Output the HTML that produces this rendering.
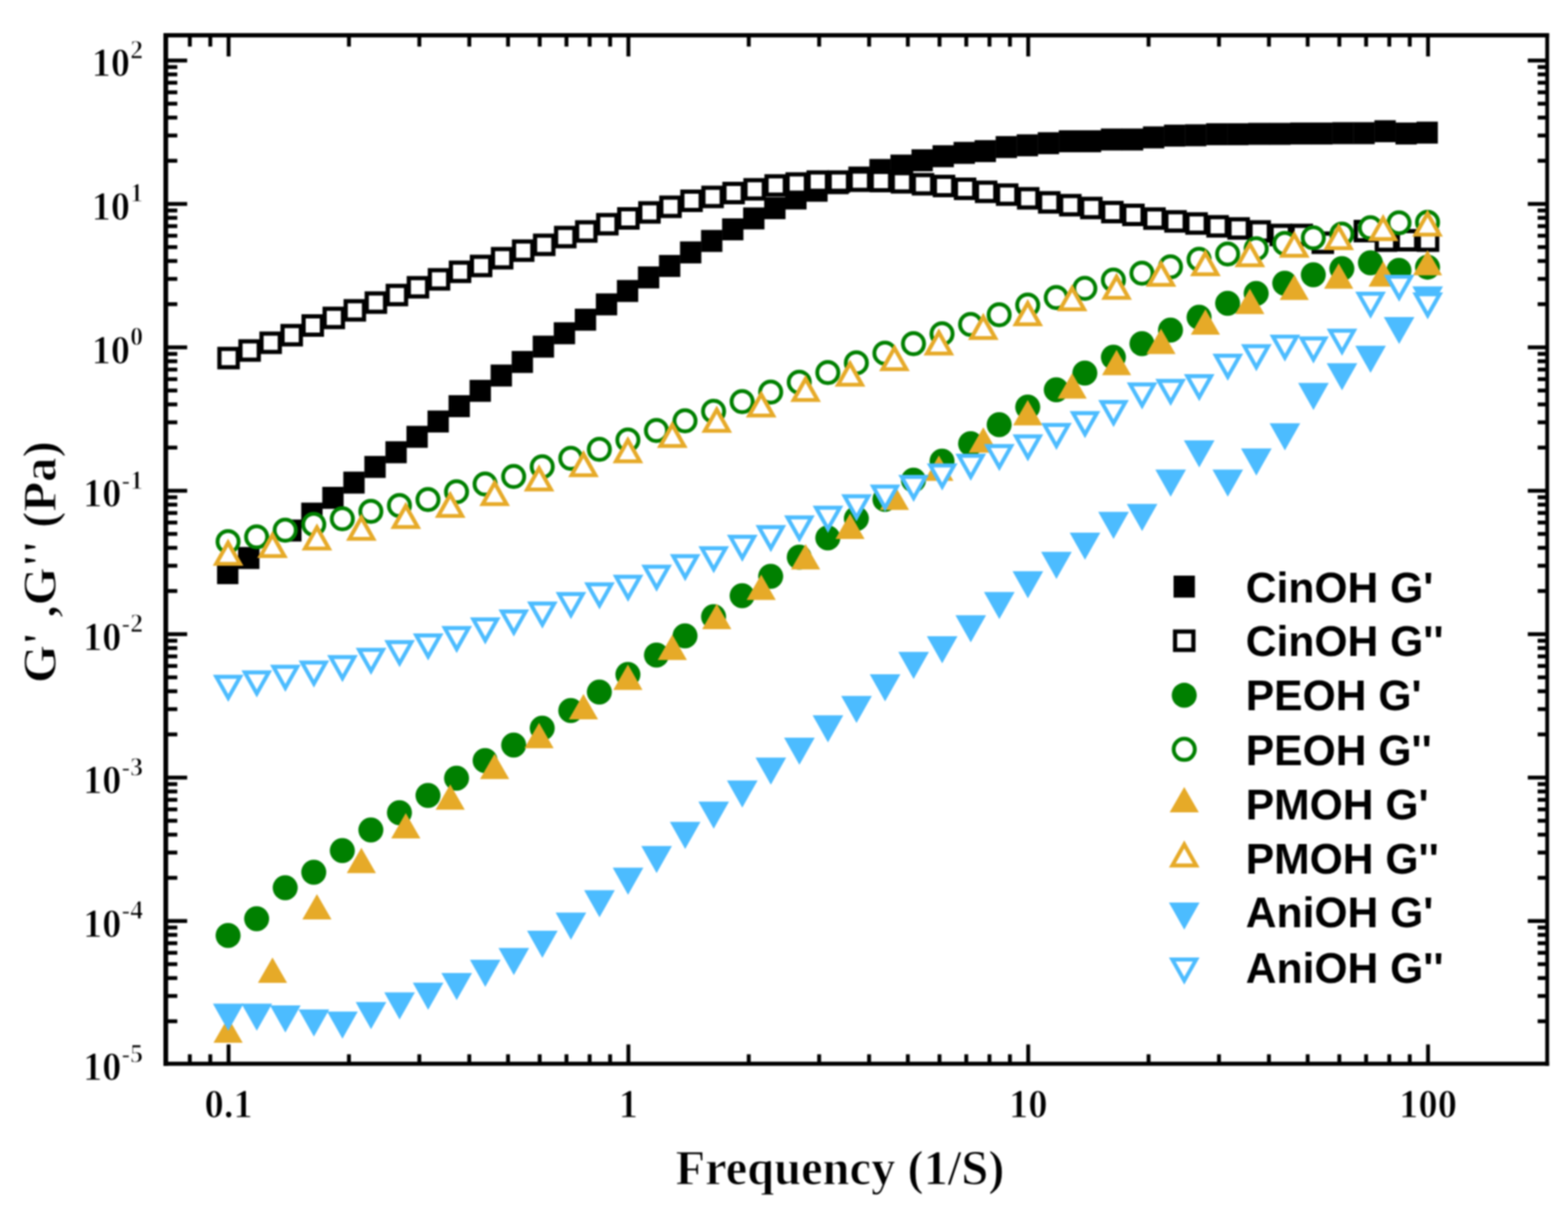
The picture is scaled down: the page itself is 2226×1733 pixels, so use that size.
<!DOCTYPE html>
<html lang="en"><head><meta charset="utf-8"><title>G', G'' vs Frequency</title>
<style>html,body{margin:0;padding:0;background:#fff}body{width:2226px;height:1733px;overflow:hidden}svg{display:block;filter:blur(1px)}</style>
</head><body>
<svg width="2226" height="1733" viewBox="0 0 2226 1733" role="img" aria-label="Log-log plot of G prime and G double prime versus frequency">
<rect width="2226" height="1733" fill="#ffffff"/>
<g id="sqf">
<rect x="308.15" y="797.9" width="30.3" height="31.2" fill="#000000"/>
<rect x="338.02" y="776.4" width="30.3" height="31.2" fill="#000000"/>
<rect x="397.77" y="737.4" width="30.3" height="31.2" fill="#000000"/>
<rect x="427.64" y="713.4" width="30.3" height="31.2" fill="#000000"/>
<rect x="457.52" y="691" width="30.3" height="31.2" fill="#000000"/>
<rect x="487.39" y="669.4" width="30.3" height="31.2" fill="#000000"/>
<rect x="517.27" y="647.15" width="30.3" height="31.2" fill="#000000"/>
<rect x="547.14" y="626.3" width="30.3" height="31.2" fill="#000000"/>
<rect x="577.01" y="604.4" width="30.3" height="31.2" fill="#000000"/>
<rect x="606.89" y="582.65" width="30.3" height="31.2" fill="#000000"/>
<rect x="636.76" y="560.9" width="30.3" height="31.2" fill="#000000"/>
<rect x="666.63" y="539.15" width="30.3" height="31.2" fill="#000000"/>
<rect x="696.51" y="517.4" width="30.3" height="31.2" fill="#000000"/>
<rect x="726.38" y="498.15" width="30.3" height="31.2" fill="#000000"/>
<rect x="756.26" y="476.4" width="30.3" height="31.2" fill="#000000"/>
<rect x="786.13" y="457.4" width="30.3" height="31.2" fill="#000000"/>
<rect x="816" y="438.15" width="30.3" height="31.2" fill="#000000"/>
<rect x="845.88" y="416.4" width="30.3" height="31.2" fill="#000000"/>
<rect x="875.75" y="397.4" width="30.3" height="31.2" fill="#000000"/>
<rect x="905.62" y="378.15" width="30.3" height="31.2" fill="#000000"/>
<rect x="935.5" y="361.9" width="30.3" height="31.2" fill="#000000"/>
<rect x="965.37" y="342.65" width="30.3" height="31.2" fill="#000000"/>
<rect x="995.24" y="326.4" width="30.3" height="31.2" fill="#000000"/>
<rect x="1025.12" y="309.9" width="30.3" height="31.2" fill="#000000"/>
<rect x="1054.99" y="294.4" width="30.3" height="31.2" fill="#000000"/>
<rect x="1084.87" y="279.9" width="30.3" height="31.2" fill="#000000"/>
<rect x="1114.74" y="266.15" width="30.3" height="31.2" fill="#000000"/>
<rect x="1144.61" y="255.15" width="30.3" height="31.2" fill="#000000"/>
<rect x="1174.49" y="244.4" width="30.3" height="31.2" fill="#000000"/>
<rect x="1204.36" y="236.4" width="30.3" height="31.2" fill="#000000"/>
<rect x="1234.23" y="225.65" width="30.3" height="31.2" fill="#000000"/>
<rect x="1264.11" y="219.4" width="30.3" height="31.2" fill="#000000"/>
<rect x="1293.98" y="211.9" width="30.3" height="31.2" fill="#000000"/>
<rect x="1323.86" y="206.15" width="30.3" height="31.2" fill="#000000"/>
<rect x="1353.73" y="201.4" width="30.3" height="31.2" fill="#000000"/>
<rect x="1383.6" y="198.9" width="30.3" height="31.2" fill="#000000"/>
<rect x="1413.48" y="193.15" width="30.3" height="31.2" fill="#000000"/>
<rect x="1443.35" y="190.65" width="30.3" height="31.2" fill="#000000"/>
<rect x="1473.22" y="187.65" width="30.3" height="31.2" fill="#000000"/>
<rect x="1503.1" y="184.9" width="30.3" height="31.2" fill="#000000"/>
<rect x="1532.97" y="184.9" width="30.3" height="31.2" fill="#000000"/>
<rect x="1562.84" y="182.4" width="30.3" height="31.2" fill="#000000"/>
<rect x="1592.72" y="182.4" width="30.3" height="31.2" fill="#000000"/>
<rect x="1622.59" y="179.4" width="30.3" height="31.2" fill="#000000"/>
<rect x="1652.47" y="176.9" width="30.3" height="31.2" fill="#000000"/>
<rect x="1682.34" y="176.4" width="30.3" height="31.2" fill="#000000"/>
<rect x="1712.21" y="174.9" width="30.3" height="31.2" fill="#000000"/>
<rect x="1742.09" y="174.9" width="30.3" height="31.2" fill="#000000"/>
<rect x="1771.96" y="174.4" width="30.3" height="31.2" fill="#000000"/>
<rect x="1801.83" y="174.4" width="30.3" height="31.2" fill="#000000"/>
<rect x="1831.71" y="173.9" width="30.3" height="31.2" fill="#000000"/>
<rect x="1861.58" y="173.9" width="30.3" height="31.2" fill="#000000"/>
<rect x="1891.46" y="173.4" width="30.3" height="31.2" fill="#000000"/>
<rect x="1921.33" y="173.4" width="30.3" height="31.2" fill="#000000"/>
<rect x="1951.2" y="170.65" width="30.3" height="31.2" fill="#000000"/>
<rect x="1981.08" y="173.9" width="30.3" height="31.2" fill="#000000"/>
<rect x="2010.95" y="172.65" width="30.3" height="31.2" fill="#000000"/>
</g><g id="sqo">
<rect x="311.5" y="495.25" width="26" height="26" fill="#fff" stroke="#000000" stroke-width="6"/>
<rect x="341.37" y="484.5" width="26" height="26" fill="#fff" stroke="#000000" stroke-width="6"/>
<rect x="371.25" y="473.5" width="26" height="26" fill="#fff" stroke="#000000" stroke-width="6"/>
<rect x="401.12" y="462.75" width="26" height="26" fill="#fff" stroke="#000000" stroke-width="6"/>
<rect x="430.99" y="449" width="26" height="26" fill="#fff" stroke="#000000" stroke-width="6"/>
<rect x="460.87" y="438.25" width="26" height="26" fill="#fff" stroke="#000000" stroke-width="6"/>
<rect x="490.74" y="427.5" width="26" height="26" fill="#fff" stroke="#000000" stroke-width="6"/>
<rect x="520.62" y="416.5" width="26" height="26" fill="#fff" stroke="#000000" stroke-width="6"/>
<rect x="550.49" y="405.75" width="26" height="26" fill="#fff" stroke="#000000" stroke-width="6"/>
<rect x="580.36" y="394.75" width="26" height="26" fill="#fff" stroke="#000000" stroke-width="6"/>
<rect x="610.24" y="383.5" width="26" height="26" fill="#fff" stroke="#000000" stroke-width="6"/>
<rect x="640.11" y="372.75" width="26" height="26" fill="#fff" stroke="#000000" stroke-width="6"/>
<rect x="669.98" y="364.5" width="26" height="26" fill="#fff" stroke="#000000" stroke-width="6"/>
<rect x="699.86" y="353.5" width="26" height="26" fill="#fff" stroke="#000000" stroke-width="6"/>
<rect x="729.73" y="342.75" width="26" height="26" fill="#fff" stroke="#000000" stroke-width="6"/>
<rect x="759.61" y="334.5" width="26" height="26" fill="#fff" stroke="#000000" stroke-width="6"/>
<rect x="789.48" y="323.5" width="26" height="26" fill="#fff" stroke="#000000" stroke-width="6"/>
<rect x="819.35" y="315.5" width="26" height="26" fill="#fff" stroke="#000000" stroke-width="6"/>
<rect x="849.23" y="305.25" width="26" height="26" fill="#fff" stroke="#000000" stroke-width="6"/>
<rect x="879.1" y="297" width="26" height="26" fill="#fff" stroke="#000000" stroke-width="6"/>
<rect x="908.97" y="288.5" width="26" height="26" fill="#fff" stroke="#000000" stroke-width="6"/>
<rect x="938.85" y="280.5" width="26" height="26" fill="#fff" stroke="#000000" stroke-width="6"/>
<rect x="968.72" y="272" width="26" height="26" fill="#fff" stroke="#000000" stroke-width="6"/>
<rect x="998.59" y="266.5" width="26" height="26" fill="#fff" stroke="#000000" stroke-width="6"/>
<rect x="1028.47" y="261" width="26" height="26" fill="#fff" stroke="#000000" stroke-width="6"/>
<rect x="1058.34" y="255.75" width="26" height="26" fill="#fff" stroke="#000000" stroke-width="6"/>
<rect x="1088.22" y="250.25" width="26" height="26" fill="#fff" stroke="#000000" stroke-width="6"/>
<rect x="1118.09" y="247.5" width="26" height="26" fill="#fff" stroke="#000000" stroke-width="6"/>
<rect x="1147.96" y="244.75" width="26" height="26" fill="#fff" stroke="#000000" stroke-width="6"/>
<rect x="1177.84" y="244.75" width="26" height="26" fill="#fff" stroke="#000000" stroke-width="6"/>
<rect x="1207.71" y="243.5" width="26" height="26" fill="#fff" stroke="#000000" stroke-width="6"/>
<rect x="1237.58" y="244" width="26" height="26" fill="#fff" stroke="#000000" stroke-width="6"/>
<rect x="1267.46" y="245.75" width="26" height="26" fill="#fff" stroke="#000000" stroke-width="6"/>
<rect x="1297.33" y="248.5" width="26" height="26" fill="#fff" stroke="#000000" stroke-width="6"/>
<rect x="1327.21" y="251" width="26" height="26" fill="#fff" stroke="#000000" stroke-width="6"/>
<rect x="1357.08" y="255" width="26" height="26" fill="#fff" stroke="#000000" stroke-width="6"/>
<rect x="1386.95" y="259.25" width="26" height="26" fill="#fff" stroke="#000000" stroke-width="6"/>
<rect x="1416.83" y="263.25" width="26" height="26" fill="#fff" stroke="#000000" stroke-width="6"/>
<rect x="1446.7" y="268.5" width="26" height="26" fill="#fff" stroke="#000000" stroke-width="6"/>
<rect x="1476.57" y="274.25" width="26" height="26" fill="#fff" stroke="#000000" stroke-width="6"/>
<rect x="1506.45" y="278.25" width="26" height="26" fill="#fff" stroke="#000000" stroke-width="6"/>
<rect x="1536.32" y="282.25" width="26" height="26" fill="#fff" stroke="#000000" stroke-width="6"/>
<rect x="1566.19" y="288" width="26" height="26" fill="#fff" stroke="#000000" stroke-width="6"/>
<rect x="1596.07" y="292" width="26" height="26" fill="#fff" stroke="#000000" stroke-width="6"/>
<rect x="1625.94" y="297.25" width="26" height="26" fill="#fff" stroke="#000000" stroke-width="6"/>
<rect x="1655.82" y="301.25" width="26" height="26" fill="#fff" stroke="#000000" stroke-width="6"/>
<rect x="1685.69" y="304.25" width="26" height="26" fill="#fff" stroke="#000000" stroke-width="6"/>
<rect x="1715.56" y="308.25" width="26" height="26" fill="#fff" stroke="#000000" stroke-width="6"/>
<rect x="1745.44" y="311.25" width="26" height="26" fill="#fff" stroke="#000000" stroke-width="6"/>
<rect x="1775.31" y="315.5" width="26" height="26" fill="#fff" stroke="#000000" stroke-width="6"/>
<rect x="1805.18" y="320.5" width="26" height="26" fill="#fff" stroke="#000000" stroke-width="6"/>
<rect x="1835.06" y="320.5" width="26" height="26" fill="#fff" stroke="#000000" stroke-width="6"/>
<rect x="1864.93" y="331.5" width="26" height="26" fill="#fff" stroke="#000000" stroke-width="6"/>
<rect x="1924.68" y="315" width="26" height="26" fill="#fff" stroke="#000000" stroke-width="6"/>
<rect x="1954.55" y="328.5" width="26" height="26" fill="#fff" stroke="#000000" stroke-width="6"/>
<rect x="1984.43" y="328" width="26" height="26" fill="#fff" stroke="#000000" stroke-width="6"/>
<rect x="2014.3" y="328.5" width="26" height="26" fill="#fff" stroke="#000000" stroke-width="6"/>
</g><g id="cif">
<circle cx="323.8" cy="1327.75" r="17.75" fill="#008000"/>
<circle cx="364.34" cy="1304" r="17.75" fill="#008000"/>
<circle cx="404.89" cy="1260" r="17.75" fill="#008000"/>
<circle cx="445.43" cy="1238" r="17.75" fill="#008000"/>
<circle cx="485.97" cy="1207.25" r="17.75" fill="#008000"/>
<circle cx="526.51" cy="1178" r="17.75" fill="#008000"/>
<circle cx="567.06" cy="1153.5" r="17.75" fill="#008000"/>
<circle cx="607.6" cy="1129" r="17.75" fill="#008000"/>
<circle cx="648.14" cy="1104.5" r="17.75" fill="#008000"/>
<circle cx="688.69" cy="1079.5" r="17.75" fill="#008000"/>
<circle cx="729.23" cy="1057.5" r="17.75" fill="#008000"/>
<circle cx="769.77" cy="1033.5" r="17.75" fill="#008000"/>
<circle cx="810.31" cy="1008.5" r="17.75" fill="#008000"/>
<circle cx="850.86" cy="982.25" r="17.75" fill="#008000"/>
<circle cx="891.4" cy="957.25" r="17.75" fill="#008000"/>
<circle cx="931.94" cy="929.75" r="17.75" fill="#008000"/>
<circle cx="972.49" cy="902.5" r="17.75" fill="#008000"/>
<circle cx="1013.03" cy="875.25" r="17.75" fill="#008000"/>
<circle cx="1053.57" cy="845.5" r="17.75" fill="#008000"/>
<circle cx="1094.11" cy="818" r="17.75" fill="#008000"/>
<circle cx="1134.66" cy="790.75" r="17.75" fill="#008000"/>
<circle cx="1175.2" cy="763.5" r="17.75" fill="#008000"/>
<circle cx="1215.74" cy="736" r="17.75" fill="#008000"/>
<circle cx="1256.29" cy="708.75" r="17.75" fill="#008000"/>
<circle cx="1296.83" cy="681.5" r="17.75" fill="#008000"/>
<circle cx="1337.37" cy="654.5" r="17.75" fill="#008000"/>
<circle cx="1377.91" cy="629.75" r="17.75" fill="#008000"/>
<circle cx="1418.46" cy="602.75" r="17.75" fill="#008000"/>
<circle cx="1459" cy="577.75" r="17.75" fill="#008000"/>
<circle cx="1499.54" cy="553.25" r="17.75" fill="#008000"/>
<circle cx="1540.09" cy="529.5" r="17.75" fill="#008000"/>
<circle cx="1580.63" cy="507" r="17.75" fill="#008000"/>
<circle cx="1621.17" cy="487.75" r="17.75" fill="#008000"/>
<circle cx="1661.71" cy="468.5" r="17.75" fill="#008000"/>
<circle cx="1702.26" cy="450.25" r="17.75" fill="#008000"/>
<circle cx="1742.8" cy="430.5" r="17.75" fill="#008000"/>
<circle cx="1783.34" cy="416.5" r="17.75" fill="#008000"/>
<circle cx="1823.89" cy="402" r="17.75" fill="#008000"/>
<circle cx="1864.43" cy="390" r="17.75" fill="#008000"/>
<circle cx="1904.97" cy="381.2" r="17.75" fill="#008000"/>
<circle cx="1945.51" cy="373" r="17.75" fill="#008000"/>
<circle cx="1986.06" cy="383.7" r="17.75" fill="#008000"/>
<circle cx="2026.6" cy="379.2" r="17.75" fill="#008000"/>
</g><g id="cio">
<circle cx="323.8" cy="768.75" r="15.0" fill="#fff" stroke="#008000" stroke-width="5.5"/>
<circle cx="364.34" cy="762" r="15.0" fill="#fff" stroke="#008000" stroke-width="5.5"/>
<circle cx="404.89" cy="752.5" r="15.0" fill="#fff" stroke="#008000" stroke-width="5.5"/>
<circle cx="445.43" cy="744.25" r="15.0" fill="#fff" stroke="#008000" stroke-width="5.5"/>
<circle cx="485.97" cy="736.25" r="15.0" fill="#fff" stroke="#008000" stroke-width="5.5"/>
<circle cx="526.51" cy="725.75" r="15.0" fill="#fff" stroke="#008000" stroke-width="5.5"/>
<circle cx="567.06" cy="717.5" r="15.0" fill="#fff" stroke="#008000" stroke-width="5.5"/>
<circle cx="607.6" cy="709" r="15.0" fill="#fff" stroke="#008000" stroke-width="5.5"/>
<circle cx="648.14" cy="698" r="15.0" fill="#fff" stroke="#008000" stroke-width="5.5"/>
<circle cx="688.69" cy="687" r="15.0" fill="#fff" stroke="#008000" stroke-width="5.5"/>
<circle cx="729.23" cy="676.25" r="15.0" fill="#fff" stroke="#008000" stroke-width="5.5"/>
<circle cx="769.77" cy="662.5" r="15.0" fill="#fff" stroke="#008000" stroke-width="5.5"/>
<circle cx="810.31" cy="650.5" r="15.0" fill="#fff" stroke="#008000" stroke-width="5.5"/>
<circle cx="850.86" cy="637.75" r="15.0" fill="#fff" stroke="#008000" stroke-width="5.5"/>
<circle cx="891.4" cy="624.5" r="15.0" fill="#fff" stroke="#008000" stroke-width="5.5"/>
<circle cx="931.94" cy="611" r="15.0" fill="#fff" stroke="#008000" stroke-width="5.5"/>
<circle cx="972.49" cy="597.25" r="15.0" fill="#fff" stroke="#008000" stroke-width="5.5"/>
<circle cx="1013.03" cy="583.75" r="15.0" fill="#fff" stroke="#008000" stroke-width="5.5"/>
<circle cx="1053.57" cy="570" r="15.0" fill="#fff" stroke="#008000" stroke-width="5.5"/>
<circle cx="1094.11" cy="556.5" r="15.0" fill="#fff" stroke="#008000" stroke-width="5.5"/>
<circle cx="1134.66" cy="542.5" r="15.0" fill="#fff" stroke="#008000" stroke-width="5.5"/>
<circle cx="1175.2" cy="528.75" r="15.0" fill="#fff" stroke="#008000" stroke-width="5.5"/>
<circle cx="1215.74" cy="515" r="15.0" fill="#fff" stroke="#008000" stroke-width="5.5"/>
<circle cx="1256.29" cy="501.25" r="15.0" fill="#fff" stroke="#008000" stroke-width="5.5"/>
<circle cx="1296.83" cy="487.75" r="15.0" fill="#fff" stroke="#008000" stroke-width="5.5"/>
<circle cx="1337.37" cy="473.75" r="15.0" fill="#fff" stroke="#008000" stroke-width="5.5"/>
<circle cx="1377.91" cy="460.5" r="15.0" fill="#fff" stroke="#008000" stroke-width="5.5"/>
<circle cx="1418.46" cy="446.75" r="15.0" fill="#fff" stroke="#008000" stroke-width="5.5"/>
<circle cx="1459" cy="433" r="15.0" fill="#fff" stroke="#008000" stroke-width="5.5"/>
<circle cx="1499.54" cy="422.25" r="15.0" fill="#fff" stroke="#008000" stroke-width="5.5"/>
<circle cx="1540.09" cy="409.25" r="15.0" fill="#fff" stroke="#008000" stroke-width="5.5"/>
<circle cx="1580.63" cy="397.5" r="15.0" fill="#fff" stroke="#008000" stroke-width="5.5"/>
<circle cx="1621.17" cy="387.75" r="15.0" fill="#fff" stroke="#008000" stroke-width="5.5"/>
<circle cx="1661.71" cy="378.75" r="15.0" fill="#fff" stroke="#008000" stroke-width="5.5"/>
<circle cx="1702.26" cy="368" r="15.0" fill="#fff" stroke="#008000" stroke-width="5.5"/>
<circle cx="1742.8" cy="360.5" r="15.0" fill="#fff" stroke="#008000" stroke-width="5.5"/>
<circle cx="1783.34" cy="353" r="15.0" fill="#fff" stroke="#008000" stroke-width="5.5"/>
<circle cx="1823.89" cy="345.5" r="15.0" fill="#fff" stroke="#008000" stroke-width="5.5"/>
<circle cx="1864.43" cy="337.5" r="15.0" fill="#fff" stroke="#008000" stroke-width="5.5"/>
<circle cx="1904.97" cy="332.2" r="15.0" fill="#fff" stroke="#008000" stroke-width="5.5"/>
<circle cx="1945.51" cy="323.3" r="15.0" fill="#fff" stroke="#008000" stroke-width="5.5"/>
<circle cx="1986.06" cy="316.2" r="15.0" fill="#fff" stroke="#008000" stroke-width="5.5"/>
<circle cx="2026.6" cy="315.5" r="15.0" fill="#fff" stroke="#008000" stroke-width="5.5"/>
</g><g id="tuf">
<polygon points="303.1,1480 344.5,1480 323.8,1444.1" fill="#E6AA28"/>
<polygon points="366.17,1395 407.57,1395 386.87,1359.1" fill="#E6AA28"/>
<polygon points="429.23,1305 470.63,1305 449.93,1269.1" fill="#E6AA28"/>
<polygon points="492.3,1239.25 533.7,1239.25 513,1203.35" fill="#E6AA28"/>
<polygon points="555.37,1190 596.77,1190 576.07,1154.1" fill="#E6AA28"/>
<polygon points="618.43,1149.25 659.83,1149.25 639.13,1113.35" fill="#E6AA28"/>
<polygon points="681.5,1105.75 722.9,1105.75 702.2,1069.85" fill="#E6AA28"/>
<polygon points="744.57,1062 785.97,1062 765.27,1026.1" fill="#E6AA28"/>
<polygon points="807.63,1021 849.03,1021 828.33,985.1" fill="#E6AA28"/>
<polygon points="870.7,979.25 912.1,979.25 891.4,943.35" fill="#E6AA28"/>
<polygon points="933.77,936.75 975.17,936.75 954.47,900.85" fill="#E6AA28"/>
<polygon points="996.83,893 1038.23,893 1017.53,857.1" fill="#E6AA28"/>
<polygon points="1059.9,851.5 1101.3,851.5 1080.6,815.6" fill="#E6AA28"/>
<polygon points="1122.97,808.25 1164.37,808.25 1143.67,772.35" fill="#E6AA28"/>
<polygon points="1186.03,765 1227.43,765 1206.73,729.1" fill="#E6AA28"/>
<polygon points="1249.1,723.75 1290.5,723.75 1269.8,687.85" fill="#E6AA28"/>
<polygon points="1312.17,682.5 1353.57,682.5 1332.87,646.6" fill="#E6AA28"/>
<polygon points="1375.23,642.5 1416.63,642.5 1395.93,606.6" fill="#E6AA28"/>
<polygon points="1438.3,603.75 1479.7,603.75 1459,567.85" fill="#E6AA28"/>
<polygon points="1501.37,565.75 1542.77,565.75 1522.07,529.85" fill="#E6AA28"/>
<polygon points="1564.43,532.5 1605.83,532.5 1585.13,496.6" fill="#E6AA28"/>
<polygon points="1627.5,502.5 1668.9,502.5 1648.2,466.6" fill="#E6AA28"/>
<polygon points="1690.57,475 1731.97,475 1711.27,439.1" fill="#E6AA28"/>
<polygon points="1753.63,445.75 1795.03,445.75 1774.33,409.85" fill="#E6AA28"/>
<polygon points="1816.7,425.8 1858.1,425.8 1837.4,389.9" fill="#E6AA28"/>
<polygon points="1879.77,409.7 1921.17,409.7 1900.47,373.8" fill="#E6AA28"/>
<polygon points="1942.83,406.7 1984.23,406.7 1963.53,370.8" fill="#E6AA28"/>
<polygon points="2005.9,390.8 2047.3,390.8 2026.6,354.9" fill="#E6AA28"/>
</g><g id="tuo">
<polygon points="302.05,803 345.55,803 323.8,764.6" fill="#E6AA28"/><polygon points="311.66,797.4 335.94,797.4 323.8,775.96" fill="#fff"/>
<polygon points="365.12,792 408.62,792 386.87,753.6" fill="#E6AA28"/><polygon points="374.72,786.4 399.01,786.4 386.87,764.96" fill="#fff"/>
<polygon points="428.18,781.25 471.68,781.25 449.93,742.85" fill="#E6AA28"/><polygon points="437.79,775.65 462.08,775.65 449.93,754.21" fill="#fff"/>
<polygon points="491.25,767.5 534.75,767.5 513,729.1" fill="#E6AA28"/><polygon points="500.86,761.9 525.14,761.9 513,740.46" fill="#fff"/>
<polygon points="554.32,750.75 597.82,750.75 576.07,712.35" fill="#E6AA28"/><polygon points="563.92,745.15 588.21,745.15 576.07,723.71" fill="#fff"/>
<polygon points="617.38,735 660.88,735 639.13,696.6" fill="#E6AA28"/><polygon points="626.99,729.4 651.28,729.4 639.13,707.96" fill="#fff"/>
<polygon points="680.45,718.25 723.95,718.25 702.2,679.85" fill="#E6AA28"/><polygon points="690.06,712.65 714.34,712.65 702.2,691.21" fill="#fff"/>
<polygon points="743.52,697.5 787.02,697.5 765.27,659.1" fill="#E6AA28"/><polygon points="753.12,691.9 777.41,691.9 765.27,670.46" fill="#fff"/>
<polygon points="806.58,677.25 850.08,677.25 828.33,638.85" fill="#E6AA28"/><polygon points="816.19,671.65 840.48,671.65 828.33,650.21" fill="#fff"/>
<polygon points="869.65,657.5 913.15,657.5 891.4,619.1" fill="#E6AA28"/><polygon points="879.26,651.9 903.54,651.9 891.4,630.46" fill="#fff"/>
<polygon points="932.72,635.75 976.22,635.75 954.47,597.35" fill="#E6AA28"/><polygon points="942.32,630.15 966.61,630.15 954.47,608.71" fill="#fff"/>
<polygon points="995.78,614.25 1039.28,614.25 1017.53,575.85" fill="#E6AA28"/><polygon points="1005.39,608.65 1029.68,608.65 1017.53,587.21" fill="#fff"/>
<polygon points="1058.85,592.5 1102.35,592.5 1080.6,554.1" fill="#E6AA28"/><polygon points="1068.46,586.9 1092.74,586.9 1080.6,565.46" fill="#fff"/>
<polygon points="1121.92,570.5 1165.42,570.5 1143.67,532.1" fill="#E6AA28"/><polygon points="1131.52,564.9 1155.81,564.9 1143.67,543.46" fill="#fff"/>
<polygon points="1184.98,548.75 1228.48,548.75 1206.73,510.35" fill="#E6AA28"/><polygon points="1194.59,543.15 1218.88,543.15 1206.73,521.71" fill="#fff"/>
<polygon points="1248.05,526.75 1291.55,526.75 1269.8,488.35" fill="#E6AA28"/><polygon points="1257.66,521.15 1281.94,521.15 1269.8,499.71" fill="#fff"/>
<polygon points="1311.12,504.5 1354.62,504.5 1332.87,466.1" fill="#E6AA28"/><polygon points="1320.72,498.9 1345.01,498.9 1332.87,477.46" fill="#fff"/>
<polygon points="1374.18,482.5 1417.68,482.5 1395.93,444.1" fill="#E6AA28"/><polygon points="1383.79,476.9 1408.08,476.9 1395.93,455.46" fill="#fff"/>
<polygon points="1437.25,463 1480.75,463 1459,424.6" fill="#E6AA28"/><polygon points="1446.86,457.4 1471.14,457.4 1459,435.96" fill="#fff"/>
<polygon points="1500.32,441.75 1543.82,441.75 1522.07,403.35" fill="#E6AA28"/><polygon points="1509.92,436.15 1534.21,436.15 1522.07,414.71" fill="#fff"/>
<polygon points="1563.38,425.5 1606.88,425.5 1585.13,387.1" fill="#E6AA28"/><polygon points="1572.99,419.9 1597.28,419.9 1585.13,398.46" fill="#fff"/>
<polygon points="1626.45,407 1669.95,407 1648.2,368.6" fill="#E6AA28"/><polygon points="1636.06,401.4 1660.34,401.4 1648.2,379.96" fill="#fff"/>
<polygon points="1689.52,392 1733.02,392 1711.27,353.6" fill="#E6AA28"/><polygon points="1699.12,386.4 1723.41,386.4 1711.27,364.96" fill="#fff"/>
<polygon points="1752.58,379.25 1796.08,379.25 1774.33,340.85" fill="#E6AA28"/><polygon points="1762.19,373.65 1786.48,373.65 1774.33,352.21" fill="#fff"/>
<polygon points="1815.65,365.8 1859.15,365.8 1837.4,327.4" fill="#E6AA28"/><polygon points="1825.26,360.2 1849.54,360.2 1837.4,338.76" fill="#fff"/>
<polygon points="1878.72,355 1922.22,355 1900.47,316.6" fill="#E6AA28"/><polygon points="1888.32,349.4 1912.61,349.4 1900.47,327.96" fill="#fff"/>
<polygon points="1941.78,342.2 1985.28,342.2 1963.53,303.8" fill="#E6AA28"/><polygon points="1951.39,336.6 1975.68,336.6 1963.53,315.16" fill="#fff"/>
<polygon points="2004.85,335.8 2048.35,335.8 2026.6,297.4" fill="#E6AA28"/><polygon points="2014.46,330.2 2038.74,330.2 2026.6,308.76" fill="#fff"/>
</g><g id="tdf">
<polygon points="302.25,1424.6 345.75,1424.6 324,1463" fill="#4CBCFF"/>
<polygon points="342.79,1424.6 386.29,1424.6 364.54,1463" fill="#4CBCFF"/>
<polygon points="383.34,1427.1 426.84,1427.1 405.09,1465.5" fill="#4CBCFF"/>
<polygon points="423.88,1432.85 467.38,1432.85 445.63,1471.25" fill="#4CBCFF"/>
<polygon points="464.42,1435.85 507.92,1435.85 486.17,1474.25" fill="#4CBCFF"/>
<polygon points="504.96,1422.35 548.46,1422.35 526.71,1460.75" fill="#4CBCFF"/>
<polygon points="545.51,1408.6 589.01,1408.6 567.26,1447" fill="#4CBCFF"/>
<polygon points="586.05,1394.85 629.55,1394.85 607.8,1433.25" fill="#4CBCFF"/>
<polygon points="626.59,1381.1 670.09,1381.1 648.34,1419.5" fill="#4CBCFF"/>
<polygon points="667.14,1362.35 710.64,1362.35 688.89,1400.75" fill="#4CBCFF"/>
<polygon points="707.68,1345.6 751.18,1345.6 729.43,1384" fill="#4CBCFF"/>
<polygon points="748.22,1321.1 791.72,1321.1 769.97,1359.5" fill="#4CBCFF"/>
<polygon points="788.76,1295.35 832.26,1295.35 810.51,1333.75" fill="#4CBCFF"/>
<polygon points="829.31,1263.6 872.81,1263.6 851.06,1302" fill="#4CBCFF"/>
<polygon points="869.85,1231.6 913.35,1231.6 891.6,1270" fill="#4CBCFF"/>
<polygon points="910.39,1200.85 953.89,1200.85 932.14,1239.25" fill="#4CBCFF"/>
<polygon points="950.94,1166.6 994.44,1166.6 972.69,1205" fill="#4CBCFF"/>
<polygon points="991.48,1137.85 1034.98,1137.85 1013.23,1176.25" fill="#4CBCFF"/>
<polygon points="1032.02,1107.85 1075.52,1107.85 1053.77,1146.25" fill="#4CBCFF"/>
<polygon points="1072.56,1075.35 1116.06,1075.35 1094.31,1113.75" fill="#4CBCFF"/>
<polygon points="1113.11,1047.1 1156.61,1047.1 1134.86,1085.5" fill="#4CBCFF"/>
<polygon points="1153.65,1015.35 1197.15,1015.35 1175.4,1053.75" fill="#4CBCFF"/>
<polygon points="1194.19,987.85 1237.69,987.85 1215.94,1026.25" fill="#4CBCFF"/>
<polygon points="1234.74,957.1 1278.24,957.1 1256.49,995.5" fill="#4CBCFF"/>
<polygon points="1275.28,925.35 1318.78,925.35 1297.03,963.75" fill="#4CBCFF"/>
<polygon points="1315.82,903.1 1359.32,903.1 1337.57,941.5" fill="#4CBCFF"/>
<polygon points="1356.36,873.35 1399.86,873.35 1378.11,911.75" fill="#4CBCFF"/>
<polygon points="1396.91,840.35 1440.41,840.35 1418.66,878.75" fill="#4CBCFF"/>
<polygon points="1437.45,810.85 1480.95,810.85 1459.2,849.25" fill="#4CBCFF"/>
<polygon points="1477.99,783.35 1521.49,783.35 1499.74,821.75" fill="#4CBCFF"/>
<polygon points="1518.54,756.1 1562.04,756.1 1540.29,794.5" fill="#4CBCFF"/>
<polygon points="1559.08,726.6 1602.58,726.6 1580.83,765" fill="#4CBCFF"/>
<polygon points="1599.62,715.35 1643.12,715.35 1621.37,753.75" fill="#4CBCFF"/>
<polygon points="1640.16,666.6 1683.66,666.6 1661.91,705" fill="#4CBCFF"/>
<polygon points="1680.71,625.1 1724.21,625.1 1702.46,663.5" fill="#4CBCFF"/>
<polygon points="1721.25,666.6 1764.75,666.6 1743,705" fill="#4CBCFF"/>
<polygon points="1761.79,636.6 1805.29,636.6 1783.54,675" fill="#4CBCFF"/>
<polygon points="1802.34,600.85 1845.84,600.85 1824.09,639.25" fill="#4CBCFF"/>
<polygon points="1842.88,543.6 1886.38,543.6 1864.63,582" fill="#4CBCFF"/>
<polygon points="1883.42,515.6 1926.92,515.6 1905.17,554" fill="#4CBCFF"/>
<polygon points="1923.96,490.8 1967.46,490.8 1945.71,529.2" fill="#4CBCFF"/>
<polygon points="1964.51,449.9 2008.01,449.9 1986.26,488.3" fill="#4CBCFF"/>
<polygon points="2005.05,406.6 2048.55,406.6 2026.8,445" fill="#4CBCFF"/>
</g><g id="tdo">
<polygon points="302.25,957.85 345.75,957.85 324,996.25" fill="#4CBCFF"/><polygon points="311.86,963.45 336.14,963.45 324,984.89" fill="#fff"/>
<polygon points="342.79,951.6 386.29,951.6 364.54,990" fill="#4CBCFF"/><polygon points="352.4,957.2 376.69,957.2 364.54,978.64" fill="#fff"/>
<polygon points="383.34,943.6 426.84,943.6 405.09,982" fill="#4CBCFF"/><polygon points="392.94,949.2 417.23,949.2 405.09,970.64" fill="#fff"/>
<polygon points="423.88,937.6 467.38,937.6 445.63,976" fill="#4CBCFF"/><polygon points="433.49,943.2 457.77,943.2 445.63,964.64" fill="#fff"/>
<polygon points="464.42,929.85 507.92,929.85 486.17,968.25" fill="#4CBCFF"/><polygon points="474.03,935.45 498.31,935.45 486.17,956.89" fill="#fff"/>
<polygon points="504.96,919.6 548.46,919.6 526.71,958" fill="#4CBCFF"/><polygon points="514.57,925.2 538.86,925.2 526.71,946.64" fill="#fff"/>
<polygon points="545.51,908.6 589.01,908.6 567.26,947" fill="#4CBCFF"/><polygon points="555.11,914.2 579.4,914.2 567.26,935.64" fill="#fff"/>
<polygon points="586.05,899.1 629.55,899.1 607.8,937.5" fill="#4CBCFF"/><polygon points="595.66,904.7 619.94,904.7 607.8,926.14" fill="#fff"/>
<polygon points="626.59,888.6 670.09,888.6 648.34,927" fill="#4CBCFF"/><polygon points="636.2,894.2 660.49,894.2 648.34,915.64" fill="#fff"/>
<polygon points="667.14,876.35 710.64,876.35 688.89,914.75" fill="#4CBCFF"/><polygon points="676.74,881.95 701.03,881.95 688.89,903.39" fill="#fff"/>
<polygon points="707.68,865.1 751.18,865.1 729.43,903.5" fill="#4CBCFF"/><polygon points="717.29,870.7 741.57,870.7 729.43,892.14" fill="#fff"/>
<polygon points="748.22,853.85 791.72,853.85 769.97,892.25" fill="#4CBCFF"/><polygon points="757.83,859.45 782.11,859.45 769.97,880.89" fill="#fff"/>
<polygon points="788.76,840.35 832.26,840.35 810.51,878.75" fill="#4CBCFF"/><polygon points="798.37,845.95 822.66,845.95 810.51,867.39" fill="#fff"/>
<polygon points="829.31,826.6 872.81,826.6 851.06,865" fill="#4CBCFF"/><polygon points="838.91,832.2 863.2,832.2 851.06,853.64" fill="#fff"/>
<polygon points="869.85,815.85 913.35,815.85 891.6,854.25" fill="#4CBCFF"/><polygon points="879.46,821.45 903.74,821.45 891.6,842.89" fill="#fff"/>
<polygon points="910.39,801.6 953.89,801.6 932.14,840" fill="#4CBCFF"/><polygon points="920,807.2 944.29,807.2 932.14,828.64" fill="#fff"/>
<polygon points="950.94,786.6 994.44,786.6 972.69,825" fill="#4CBCFF"/><polygon points="960.54,792.2 984.83,792.2 972.69,813.64" fill="#fff"/>
<polygon points="991.48,775.35 1034.98,775.35 1013.23,813.75" fill="#4CBCFF"/><polygon points="1001.09,780.95 1025.37,780.95 1013.23,802.39" fill="#fff"/>
<polygon points="1032.02,759.1 1075.52,759.1 1053.77,797.5" fill="#4CBCFF"/><polygon points="1041.63,764.7 1065.91,764.7 1053.77,786.14" fill="#fff"/>
<polygon points="1072.56,745.35 1116.06,745.35 1094.31,783.75" fill="#4CBCFF"/><polygon points="1082.17,750.95 1106.46,750.95 1094.31,772.39" fill="#fff"/>
<polygon points="1113.11,731.6 1156.61,731.6 1134.86,770" fill="#4CBCFF"/><polygon points="1122.71,737.2 1147,737.2 1134.86,758.64" fill="#fff"/>
<polygon points="1153.65,717.85 1197.15,717.85 1175.4,756.25" fill="#4CBCFF"/><polygon points="1163.26,723.45 1187.54,723.45 1175.4,744.89" fill="#fff"/>
<polygon points="1194.19,701.6 1237.69,701.6 1215.94,740" fill="#4CBCFF"/><polygon points="1203.8,707.2 1228.09,707.2 1215.94,728.64" fill="#fff"/>
<polygon points="1234.74,687.85 1278.24,687.85 1256.49,726.25" fill="#4CBCFF"/><polygon points="1244.34,693.45 1268.63,693.45 1256.49,714.89" fill="#fff"/>
<polygon points="1275.28,674.1 1318.78,674.1 1297.03,712.5" fill="#4CBCFF"/><polygon points="1284.89,679.7 1309.17,679.7 1297.03,701.14" fill="#fff"/>
<polygon points="1315.82,657.85 1359.32,657.85 1337.57,696.25" fill="#4CBCFF"/><polygon points="1325.43,663.45 1349.71,663.45 1337.57,684.89" fill="#fff"/>
<polygon points="1356.36,644.1 1399.86,644.1 1378.11,682.5" fill="#4CBCFF"/><polygon points="1365.97,649.7 1390.26,649.7 1378.11,671.14" fill="#fff"/>
<polygon points="1396.91,630.35 1440.41,630.35 1418.66,668.75" fill="#4CBCFF"/><polygon points="1406.51,635.95 1430.8,635.95 1418.66,657.39" fill="#fff"/>
<polygon points="1437.45,616.6 1480.95,616.6 1459.2,655" fill="#4CBCFF"/><polygon points="1447.06,622.2 1471.34,622.2 1459.2,643.64" fill="#fff"/>
<polygon points="1477.99,600.35 1521.49,600.35 1499.74,638.75" fill="#4CBCFF"/><polygon points="1487.6,605.95 1511.89,605.95 1499.74,627.39" fill="#fff"/>
<polygon points="1518.54,583.6 1562.04,583.6 1540.29,622" fill="#4CBCFF"/><polygon points="1528.14,589.2 1552.43,589.2 1540.29,610.64" fill="#fff"/>
<polygon points="1559.08,567.85 1602.58,567.85 1580.83,606.25" fill="#4CBCFF"/><polygon points="1568.69,573.45 1592.97,573.45 1580.83,594.89" fill="#fff"/>
<polygon points="1599.62,542.85 1643.12,542.85 1621.37,581.25" fill="#4CBCFF"/><polygon points="1609.23,548.45 1633.51,548.45 1621.37,569.89" fill="#fff"/>
<polygon points="1640.16,537.85 1683.66,537.85 1661.91,576.25" fill="#4CBCFF"/><polygon points="1649.77,543.45 1674.06,543.45 1661.91,564.89" fill="#fff"/>
<polygon points="1680.71,531.1 1724.21,531.1 1702.46,569.5" fill="#4CBCFF"/><polygon points="1690.31,536.7 1714.6,536.7 1702.46,558.14" fill="#fff"/>
<polygon points="1721.25,502.1 1764.75,502.1 1743,540.5" fill="#4CBCFF"/><polygon points="1730.86,507.7 1755.14,507.7 1743,529.14" fill="#fff"/>
<polygon points="1761.79,488.6 1805.29,488.6 1783.54,527" fill="#4CBCFF"/><polygon points="1771.4,494.2 1795.69,494.2 1783.54,515.64" fill="#fff"/>
<polygon points="1802.34,474.9 1845.84,474.9 1824.09,513.3" fill="#4CBCFF"/><polygon points="1811.94,480.5 1836.23,480.5 1824.09,501.94" fill="#fff"/>
<polygon points="1842.88,477.6 1886.38,477.6 1864.63,516" fill="#4CBCFF"/><polygon points="1852.49,483.2 1876.77,483.2 1864.63,504.64" fill="#fff"/>
<polygon points="1883.42,466.6 1926.92,466.6 1905.17,505" fill="#4CBCFF"/><polygon points="1893.03,472.2 1917.31,472.2 1905.17,493.64" fill="#fff"/>
<polygon points="1923.96,414.1 1967.46,414.1 1945.71,452.5" fill="#4CBCFF"/><polygon points="1933.57,419.7 1957.86,419.7 1945.71,441.14" fill="#fff"/>
<polygon points="1964.51,389.9 2008.01,389.9 1986.26,428.3" fill="#4CBCFF"/><polygon points="1974.11,395.5 1998.4,395.5 1986.26,416.94" fill="#fff"/>
<polygon points="2005.05,414.9 2048.55,414.9 2026.8,453.3" fill="#4CBCFF"/><polygon points="2014.66,420.5 2038.94,420.5 2026.8,441.94" fill="#fff"/>
</g>
<g id="axes" fill="#000">
<rect x="232.0" y="47.0" width="6.7" height="1465.7"/>
<rect x="2193.7" y="47.0" width="5.5" height="1465.7"/>
<rect x="232.0" y="47.0" width="1967.2" height="6.1"/>
<rect x="232.0" y="1506.9" width="1967.2" height="5.8"/>
<rect x="266.74" y="52.1" width="5.5" height="14"/>
<rect x="266.74" y="1496.4" width="5.5" height="11.5"/>
<rect x="295.78" y="52.1" width="5.5" height="14"/>
<rect x="295.78" y="1496.4" width="5.5" height="11.5"/>
<rect x="321.75" y="52.1" width="5.5" height="28"/>
<rect x="321.75" y="1482.4" width="5.5" height="25.5"/>
<rect x="492.61" y="52.1" width="5.5" height="14"/>
<rect x="492.61" y="1496.4" width="5.5" height="11.5"/>
<rect x="592.56" y="52.1" width="5.5" height="14"/>
<rect x="592.56" y="1496.4" width="5.5" height="11.5"/>
<rect x="663.48" y="52.1" width="5.5" height="14"/>
<rect x="663.48" y="1496.4" width="5.5" height="11.5"/>
<rect x="718.49" y="52.1" width="5.5" height="14"/>
<rect x="718.49" y="1496.4" width="5.5" height="11.5"/>
<rect x="763.43" y="52.1" width="5.5" height="14"/>
<rect x="763.43" y="1496.4" width="5.5" height="11.5"/>
<rect x="801.43" y="52.1" width="5.5" height="14"/>
<rect x="801.43" y="1496.4" width="5.5" height="11.5"/>
<rect x="834.34" y="52.1" width="5.5" height="14"/>
<rect x="834.34" y="1496.4" width="5.5" height="11.5"/>
<rect x="863.38" y="52.1" width="5.5" height="14"/>
<rect x="863.38" y="1496.4" width="5.5" height="11.5"/>
<rect x="889.35" y="52.1" width="5.5" height="28"/>
<rect x="889.35" y="1482.4" width="5.5" height="25.5"/>
<rect x="1060.21" y="52.1" width="5.5" height="14"/>
<rect x="1060.21" y="1496.4" width="5.5" height="11.5"/>
<rect x="1160.16" y="52.1" width="5.5" height="14"/>
<rect x="1160.16" y="1496.4" width="5.5" height="11.5"/>
<rect x="1231.08" y="52.1" width="5.5" height="14"/>
<rect x="1231.08" y="1496.4" width="5.5" height="11.5"/>
<rect x="1286.09" y="52.1" width="5.5" height="14"/>
<rect x="1286.09" y="1496.4" width="5.5" height="11.5"/>
<rect x="1331.03" y="52.1" width="5.5" height="14"/>
<rect x="1331.03" y="1496.4" width="5.5" height="11.5"/>
<rect x="1369.03" y="52.1" width="5.5" height="14"/>
<rect x="1369.03" y="1496.4" width="5.5" height="11.5"/>
<rect x="1401.94" y="52.1" width="5.5" height="14"/>
<rect x="1401.94" y="1496.4" width="5.5" height="11.5"/>
<rect x="1430.98" y="52.1" width="5.5" height="14"/>
<rect x="1430.98" y="1496.4" width="5.5" height="11.5"/>
<rect x="1456.95" y="52.1" width="5.5" height="28"/>
<rect x="1456.95" y="1482.4" width="5.5" height="25.5"/>
<rect x="1627.81" y="52.1" width="5.5" height="14"/>
<rect x="1627.81" y="1496.4" width="5.5" height="11.5"/>
<rect x="1727.76" y="52.1" width="5.5" height="14"/>
<rect x="1727.76" y="1496.4" width="5.5" height="11.5"/>
<rect x="1798.68" y="52.1" width="5.5" height="14"/>
<rect x="1798.68" y="1496.4" width="5.5" height="11.5"/>
<rect x="1853.69" y="52.1" width="5.5" height="14"/>
<rect x="1853.69" y="1496.4" width="5.5" height="11.5"/>
<rect x="1898.63" y="52.1" width="5.5" height="14"/>
<rect x="1898.63" y="1496.4" width="5.5" height="11.5"/>
<rect x="1936.63" y="52.1" width="5.5" height="14"/>
<rect x="1936.63" y="1496.4" width="5.5" height="11.5"/>
<rect x="1969.54" y="52.1" width="5.5" height="14"/>
<rect x="1969.54" y="1496.4" width="5.5" height="11.5"/>
<rect x="1998.58" y="52.1" width="5.5" height="14"/>
<rect x="1998.58" y="1496.4" width="5.5" height="11.5"/>
<rect x="2024.55" y="52.1" width="5.5" height="28"/>
<rect x="2024.55" y="1482.4" width="5.5" height="25.5"/>
<rect x="237.7" y="1446.73" width="14" height="5.5"/>
<rect x="2182.9" y="1446.73" width="11.8" height="5.5"/>
<rect x="237.7" y="1410.88" width="14" height="5.5"/>
<rect x="2182.9" y="1410.88" width="11.8" height="5.5"/>
<rect x="237.7" y="1385.45" width="14" height="5.5"/>
<rect x="2182.9" y="1385.45" width="11.8" height="5.5"/>
<rect x="237.7" y="1365.72" width="14" height="5.5"/>
<rect x="2182.9" y="1365.72" width="11.8" height="5.5"/>
<rect x="237.7" y="1349.61" width="14" height="5.5"/>
<rect x="2182.9" y="1349.61" width="11.8" height="5.5"/>
<rect x="237.7" y="1335.98" width="14" height="5.5"/>
<rect x="2182.9" y="1335.98" width="11.8" height="5.5"/>
<rect x="237.7" y="1324.18" width="14" height="5.5"/>
<rect x="2182.9" y="1324.18" width="11.8" height="5.5"/>
<rect x="237.7" y="1313.76" width="14" height="5.5"/>
<rect x="2182.9" y="1313.76" width="11.8" height="5.5"/>
<rect x="237.7" y="1304.45" width="28" height="5.5"/>
<rect x="2168.9" y="1304.45" width="25.8" height="5.5"/>
<rect x="237.7" y="1243.18" width="14" height="5.5"/>
<rect x="2182.9" y="1243.18" width="11.8" height="5.5"/>
<rect x="237.7" y="1207.33" width="14" height="5.5"/>
<rect x="2182.9" y="1207.33" width="11.8" height="5.5"/>
<rect x="237.7" y="1181.9" width="14" height="5.5"/>
<rect x="2182.9" y="1181.9" width="11.8" height="5.5"/>
<rect x="237.7" y="1162.17" width="14" height="5.5"/>
<rect x="2182.9" y="1162.17" width="11.8" height="5.5"/>
<rect x="237.7" y="1146.06" width="14" height="5.5"/>
<rect x="2182.9" y="1146.06" width="11.8" height="5.5"/>
<rect x="237.7" y="1132.43" width="14" height="5.5"/>
<rect x="2182.9" y="1132.43" width="11.8" height="5.5"/>
<rect x="237.7" y="1120.63" width="14" height="5.5"/>
<rect x="2182.9" y="1120.63" width="11.8" height="5.5"/>
<rect x="237.7" y="1110.21" width="14" height="5.5"/>
<rect x="2182.9" y="1110.21" width="11.8" height="5.5"/>
<rect x="237.7" y="1100.9" width="28" height="5.5"/>
<rect x="2168.9" y="1100.9" width="25.8" height="5.5"/>
<rect x="237.7" y="1039.63" width="14" height="5.5"/>
<rect x="2182.9" y="1039.63" width="11.8" height="5.5"/>
<rect x="237.7" y="1003.78" width="14" height="5.5"/>
<rect x="2182.9" y="1003.78" width="11.8" height="5.5"/>
<rect x="237.7" y="978.35" width="14" height="5.5"/>
<rect x="2182.9" y="978.35" width="11.8" height="5.5"/>
<rect x="237.7" y="958.62" width="14" height="5.5"/>
<rect x="2182.9" y="958.62" width="11.8" height="5.5"/>
<rect x="237.7" y="942.51" width="14" height="5.5"/>
<rect x="2182.9" y="942.51" width="11.8" height="5.5"/>
<rect x="237.7" y="928.88" width="14" height="5.5"/>
<rect x="2182.9" y="928.88" width="11.8" height="5.5"/>
<rect x="237.7" y="917.08" width="14" height="5.5"/>
<rect x="2182.9" y="917.08" width="11.8" height="5.5"/>
<rect x="237.7" y="906.66" width="14" height="5.5"/>
<rect x="2182.9" y="906.66" width="11.8" height="5.5"/>
<rect x="237.7" y="897.35" width="28" height="5.5"/>
<rect x="2168.9" y="897.35" width="25.8" height="5.5"/>
<rect x="237.7" y="836.08" width="14" height="5.5"/>
<rect x="2182.9" y="836.08" width="11.8" height="5.5"/>
<rect x="237.7" y="800.23" width="14" height="5.5"/>
<rect x="2182.9" y="800.23" width="11.8" height="5.5"/>
<rect x="237.7" y="774.8" width="14" height="5.5"/>
<rect x="2182.9" y="774.8" width="11.8" height="5.5"/>
<rect x="237.7" y="755.07" width="14" height="5.5"/>
<rect x="2182.9" y="755.07" width="11.8" height="5.5"/>
<rect x="237.7" y="738.96" width="14" height="5.5"/>
<rect x="2182.9" y="738.96" width="11.8" height="5.5"/>
<rect x="237.7" y="725.33" width="14" height="5.5"/>
<rect x="2182.9" y="725.33" width="11.8" height="5.5"/>
<rect x="237.7" y="713.53" width="14" height="5.5"/>
<rect x="2182.9" y="713.53" width="11.8" height="5.5"/>
<rect x="237.7" y="703.11" width="14" height="5.5"/>
<rect x="2182.9" y="703.11" width="11.8" height="5.5"/>
<rect x="237.7" y="693.8" width="28" height="5.5"/>
<rect x="2168.9" y="693.8" width="25.8" height="5.5"/>
<rect x="237.7" y="632.53" width="14" height="5.5"/>
<rect x="2182.9" y="632.53" width="11.8" height="5.5"/>
<rect x="237.7" y="596.68" width="14" height="5.5"/>
<rect x="2182.9" y="596.68" width="11.8" height="5.5"/>
<rect x="237.7" y="571.25" width="14" height="5.5"/>
<rect x="2182.9" y="571.25" width="11.8" height="5.5"/>
<rect x="237.7" y="551.52" width="14" height="5.5"/>
<rect x="2182.9" y="551.52" width="11.8" height="5.5"/>
<rect x="237.7" y="535.41" width="14" height="5.5"/>
<rect x="2182.9" y="535.41" width="11.8" height="5.5"/>
<rect x="237.7" y="521.78" width="14" height="5.5"/>
<rect x="2182.9" y="521.78" width="11.8" height="5.5"/>
<rect x="237.7" y="509.98" width="14" height="5.5"/>
<rect x="2182.9" y="509.98" width="11.8" height="5.5"/>
<rect x="237.7" y="499.56" width="14" height="5.5"/>
<rect x="2182.9" y="499.56" width="11.8" height="5.5"/>
<rect x="237.7" y="490.25" width="28" height="5.5"/>
<rect x="2168.9" y="490.25" width="25.8" height="5.5"/>
<rect x="237.7" y="428.98" width="14" height="5.5"/>
<rect x="2182.9" y="428.98" width="11.8" height="5.5"/>
<rect x="237.7" y="393.13" width="14" height="5.5"/>
<rect x="2182.9" y="393.13" width="11.8" height="5.5"/>
<rect x="237.7" y="367.7" width="14" height="5.5"/>
<rect x="2182.9" y="367.7" width="11.8" height="5.5"/>
<rect x="237.7" y="347.97" width="14" height="5.5"/>
<rect x="2182.9" y="347.97" width="11.8" height="5.5"/>
<rect x="237.7" y="331.86" width="14" height="5.5"/>
<rect x="2182.9" y="331.86" width="11.8" height="5.5"/>
<rect x="237.7" y="318.23" width="14" height="5.5"/>
<rect x="2182.9" y="318.23" width="11.8" height="5.5"/>
<rect x="237.7" y="306.43" width="14" height="5.5"/>
<rect x="2182.9" y="306.43" width="11.8" height="5.5"/>
<rect x="237.7" y="296.01" width="14" height="5.5"/>
<rect x="2182.9" y="296.01" width="11.8" height="5.5"/>
<rect x="237.7" y="286.7" width="28" height="5.5"/>
<rect x="2168.9" y="286.7" width="25.8" height="5.5"/>
<rect x="237.7" y="225.43" width="14" height="5.5"/>
<rect x="2182.9" y="225.43" width="11.8" height="5.5"/>
<rect x="237.7" y="189.58" width="14" height="5.5"/>
<rect x="2182.9" y="189.58" width="11.8" height="5.5"/>
<rect x="237.7" y="164.15" width="14" height="5.5"/>
<rect x="2182.9" y="164.15" width="11.8" height="5.5"/>
<rect x="237.7" y="144.42" width="14" height="5.5"/>
<rect x="2182.9" y="144.42" width="11.8" height="5.5"/>
<rect x="237.7" y="128.31" width="14" height="5.5"/>
<rect x="2182.9" y="128.31" width="11.8" height="5.5"/>
<rect x="237.7" y="114.68" width="14" height="5.5"/>
<rect x="2182.9" y="114.68" width="11.8" height="5.5"/>
<rect x="237.7" y="102.88" width="14" height="5.5"/>
<rect x="2182.9" y="102.88" width="11.8" height="5.5"/>
<rect x="237.7" y="92.46" width="14" height="5.5"/>
<rect x="2182.9" y="92.46" width="11.8" height="5.5"/>
<rect x="237.7" y="83.15" width="28" height="5.5"/>
<rect x="2168.9" y="83.15" width="25.8" height="5.5"/>
</g>
<g font-family="'Liberation Serif', serif" font-weight="bold" fill="#000" stroke="#fff" stroke-width="1.2" stroke-linejoin="round">
<text transform="translate(324.5,1586) scale(0.965,1)" font-size="57" text-anchor="middle">0.1</text>
<text transform="translate(892.1,1586) scale(0.965,1)" font-size="57" text-anchor="middle">1</text>
<text transform="translate(1459.7,1586) scale(0.965,1)" font-size="57" text-anchor="middle">10</text>
<text transform="translate(2027.3,1586) scale(0.965,1)" font-size="57" text-anchor="middle">100</text>
<text transform="translate(203.2,1533.25) scale(0.97,1)" font-size="56.5" text-anchor="end">10<tspan font-size="38" dy="-25.5">-5</tspan></text>
<text transform="translate(203.2,1329.7) scale(0.97,1)" font-size="56.5" text-anchor="end">10<tspan font-size="38" dy="-25.5">-4</tspan></text>
<text transform="translate(203.2,1126.15) scale(0.97,1)" font-size="56.5" text-anchor="end">10<tspan font-size="38" dy="-25.5">-3</tspan></text>
<text transform="translate(203.2,922.6) scale(0.97,1)" font-size="56.5" text-anchor="end">10<tspan font-size="38" dy="-25.5">-2</tspan></text>
<text transform="translate(203.2,719.05) scale(0.97,1)" font-size="56.5" text-anchor="end">10<tspan font-size="38" dy="-25.5">-1</tspan></text>
<text transform="translate(203.2,515.5) scale(0.97,1)" font-size="56.5" text-anchor="end">10<tspan font-size="38" dy="-25.5">0</tspan></text>
<text transform="translate(203.2,311.95) scale(0.97,1)" font-size="56.5" text-anchor="end">10<tspan font-size="38" dy="-25.5">1</tspan></text>
<text transform="translate(203.2,108.4) scale(0.97,1)" font-size="56.5" text-anchor="end">10<tspan font-size="38" dy="-25.5">2</tspan></text>
<text x="1192.4" y="1680.7" font-size="68.8" text-anchor="middle">Frequency (1/S)</text>
<text transform="translate(79,969.6) rotate(-90) scale(1.02,1)" font-size="68">G'<tspan dx="19.5">,</tspan>G'' (Pa)</text>
</g>
<g id="legend">
<rect x="1666.05" y="817" width="30.3" height="31.2" fill="#000000"/>
<rect x="1668.2" y="896.4" width="26" height="26" fill="#fff" stroke="#000000" stroke-width="6"/>
<circle cx="1681.2" cy="986.8" r="17.75" fill="#008000"/>
<circle cx="1681.2" cy="1063.6" r="15.0" fill="#fff" stroke="#008000" stroke-width="5.5"/>
<polygon points="1660.5,1153 1701.9,1153 1681.2,1117.1" fill="#E6AA28"/>
<polygon points="1659.45,1231.2 1702.95,1231.2 1681.2,1192.8" fill="#E6AA28"/><polygon points="1669.06,1225.6 1693.34,1225.6 1681.2,1204.16" fill="#fff"/>
<polygon points="1659.45,1281.1 1702.95,1281.1 1681.2,1319.5" fill="#4CBCFF"/>
<polygon points="1659.45,1359.1 1702.95,1359.1 1681.2,1397.5" fill="#4CBCFF"/><polygon points="1669.06,1364.7 1693.34,1364.7 1681.2,1386.14" fill="#fff"/>
<g font-family="'Liberation Sans', sans-serif" font-weight="bold" font-size="60.5" fill="#000">
<text x="1768.5" y="854.5">CinOH G'</text>
<text x="1768.5" y="931.25">CinOH G''</text>
<text x="1768.5" y="1008">PEOH G'</text>
<text x="1768.5" y="1085.5">PEOH G''</text>
<text x="1768.5" y="1162.75">PMOH G'</text>
<text x="1768.5" y="1239.5">PMOH G''</text>
<text x="1768.5" y="1316.25">AniOH G'</text>
<text x="1768.5" y="1394.5">AniOH G''</text>
</g></g>
</svg>
</body></html>
